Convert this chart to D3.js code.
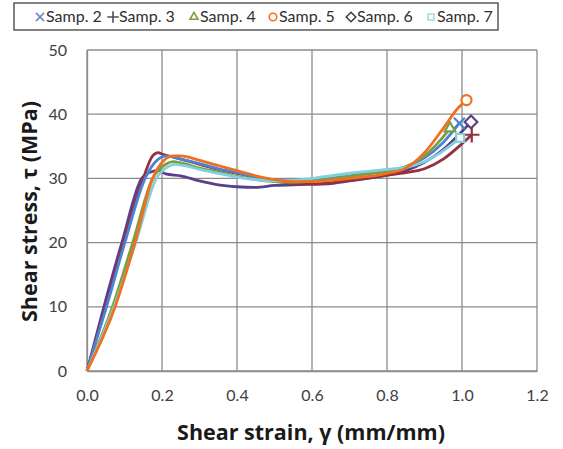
<!DOCTYPE html>
<html>
<head>
<meta charset="utf-8">
<script src="https://cdn.jsdelivr.net/npm/d3@7"></script>
<style>
  body { margin: 0; background: #fff; }
  text { font-family: Lato, "Open Sans", sans-serif; }
</style>
</head>
<body>
<div class="chart"></div>
<script>
// series data: [strain, stress]
const names = ['Samp. 2', 'Samp. 3', 'Samp. 4', 'Samp. 5', 'Samp. 6', 'Samp. 7'];
const colors = ['#4a84d8', '#953040', '#78a040', '#f07020', '#5a3f8a', '#80d0e0'];
const symbols = ['cross', 'plus', 'triangle', 'circle', 'diamond', 'square'];

const samp2 = [[0,0],[0.052,10],[0.101,20],[0.155,30],[0.19,33.0],[0.21,33.5],[0.25,33.0],[0.3,32.3],[0.35,31.5],[0.4,30.9],[0.45,30.2],[0.5,29.8],[0.55,29.6],[0.6,29.7],[0.65,30.0],[0.7,30.4],[0.75,30.8],[0.8,31.2],[0.85,31.8],[0.9,33.2],[0.95,35.6],[0.993,38.6]];
const samp3 = [[0,0],[0.05,10],[0.097,20],[0.15,30],[0.175,33.5],[0.19,34.0],[0.2,33.8],[0.25,33.0],[0.3,32.2],[0.35,31.4],[0.4,30.8],[0.45,30.2],[0.5,29.6],[0.55,29.2],[0.6,29.1],[0.65,29.3],[0.7,29.7],[0.75,30.1],[0.8,30.5],[0.85,30.9],[0.9,31.5],[0.95,33.0],[1.0,35.4],[1.026,36.8]];
const samp4 = [[0,0],[0.068,10],[0.122,20],[0.175,30],[0.21,32.2],[0.23,32.6],[0.25,32.4],[0.3,31.6],[0.35,31.0],[0.4,30.3],[0.45,29.8],[0.5,29.5],[0.55,29.4],[0.6,29.6],[0.65,29.9],[0.7,30.3],[0.75,30.7],[0.8,31.1],[0.85,31.8],[0.9,33.5],[0.94,35.8],[0.968,37.8]];
const samp5 = [[0,0],[0.075,10],[0.128,20],[0.175,30],[0.205,32.8],[0.23,33.5],[0.25,33.5],[0.3,32.8],[0.35,32.0],[0.4,31.2],[0.45,30.4],[0.5,29.8],[0.55,29.5],[0.6,29.5],[0.65,29.7],[0.7,30.0],[0.75,30.3],[0.8,30.8],[0.85,31.6],[0.9,34.0],[0.95,37.8],[0.99,41.0],[1.012,42.2]];
const samp6 = [[0,0],[0.045,10],[0.093,20],[0.146,30],[0.17,31.0],[0.19,31.2],[0.21,30.7],[0.25,30.4],[0.3,29.6],[0.35,29.0],[0.4,28.7],[0.45,28.6],[0.5,28.9],[0.55,29.0],[0.6,29.1],[0.65,29.2],[0.7,29.6],[0.75,30.0],[0.8,30.5],[0.85,31.2],[0.9,32.5],[0.95,34.5],[1.0,37.3],[1.024,38.8]];
const samp7 = [[0,0],[0.072,10],[0.13,20],[0.185,30],[0.215,31.8],[0.235,32.2],[0.26,32.0],[0.3,31.4],[0.35,30.8],[0.4,30.2],[0.45,29.8],[0.5,29.6],[0.55,29.7],[0.6,30.0],[0.65,30.4],[0.7,30.8],[0.75,31.1],[0.8,31.4],[0.85,31.7],[0.9,32.6],[0.95,34.3],[0.995,36.3]];

const xTicks = [0, 0.2, 0.4, 0.6, 0.8, 1.0, 1.2];
const yTicks = [0, 10, 20, 30, 40, 50];

const series = [samp2, samp3, samp4, samp5, samp6, samp7];
// drawing order: back to front
const order = [4, 1, 0, 2, 5, 3];

const width = 563, height = 449;
const margin = {left: 87, right: 26, top: 50, bottom: 78};

const svg = d3.select('.chart').append('svg')
  .attr('width', width)
  .attr('height', height);

const x = d3.scaleLinear().domain([0, 1.2]).range([margin.left, width - margin.right]);
const y = d3.scaleLinear().domain([0, 50]).range([height - margin.bottom, margin.top]);

// gridlines
svg.append('g').selectAll('line.v')
  .data(xTicks)
  .enter().append('line')
  .attr('x1', d => x(d)).attr('x2', d => x(d))
  .attr('y1', y(0)).attr('y2', y(50))
  .attr('stroke', '#8c8c8c').attr('stroke-width', 1.3);
svg.append('g').selectAll('line.h')
  .data(yTicks)
  .enter().append('line')
  .attr('x1', x(0)).attr('x2', x(1.2))
  .attr('y1', d => y(d)).attr('y2', d => y(d))
  .attr('stroke', '#8c8c8c').attr('stroke-width', 1.3);

// axes (labels only)
const xAxis = svg.append('g')
  .attr('transform', `translate(0,${y(0)})`)
  .call(d3.axisBottom(x).tickValues(xTicks).tickFormat(d3.format('.1f')).tickSize(0).tickPadding(19));
const yAxis = svg.append('g')
  .attr('transform', `translate(${x(0)},0)`)
  .call(d3.axisLeft(y).tickValues(yTicks).tickSize(0).tickPadding(20));
[xAxis, yAxis].forEach(g => {
  g.select('.domain').attr('stroke', '#8c8c8c').attr('stroke-width', 1.3);
  g.selectAll('text').attr('font-size', 16).attr('fill', '#404040')
    .style('font-family', 'Lato, sans-serif');
});

// lines
const line = d3.line().x(d => x(d[0])).y(d => y(d[1])).curve(d3.curveMonotoneX);
const gLines = svg.append('g');
order.forEach(i => {
  gLines.append('path')
    .datum(series[i])
    .attr('d', line)
    .attr('fill', 'none')
    .attr('stroke', colors[i])
    .attr('stroke-width', 2.8)
    .attr('stroke-linejoin', 'round');
});

// end markers
const diamond = {
  draw(ctx, size) {
    const r = Math.sqrt(size / 2);
    ctx.moveTo(0, -r); ctx.lineTo(r, 0); ctx.lineTo(0, r); ctx.lineTo(-r, 0); ctx.closePath();
  }
};
function symPath(s, size) {
  const t = {
    cross: d3.symbolTimes, plus: d3.symbolPlus, triangle: d3.symbolTriangle2,
    circle: d3.symbolCircle, diamond: diamond, square: d3.symbolSquare2
  }[s];
  return d3.symbol(t, size)();
}
order.forEach(i => {
  const last = series[i][series[i].length - 1];
  svg.append('path')
    .attr('d', symPath(symbols[i], 80))
    .attr('transform', `translate(${x(last[0])},${y(last[1])})`)
    .attr('fill', (symbols[i] === 'cross' || symbols[i] === 'plus') ? 'none' : '#fff')
    .attr('stroke', colors[i])
    .attr('stroke-width', 2.2);
});

// legend
const legend = svg.append('g');
legend.append('rect')
  .attr('x', 14).attr('y', 3).attr('width', 484).attr('height', 27)
  .attr('fill', '#fff').attr('stroke', '#404040').attr('stroke-width', 1.3);
const legX = [40, 113, 194, 273, 351, 431];
const legSym = ['#7585c0', '#505050', '#78a040', '#f07020', '#404040', '#a8d8e8'];
names.forEach((n, i) => {
  legend.append('path')
    .attr('d', symPath(symbols[i], 45))
    .attr('transform', `translate(${legX[i]},17)`)
    .attr('fill', 'none')
    .attr('stroke', legSym[i])
    .attr('stroke-width', 1.6);
  legend.append('text')
    .attr('x', legX[i] + 6).attr('y', 22)
    .attr('font-size', 16)
    .attr('fill', '#303030')
    .text(n);
});

// axis titles
svg.append('text')
  .attr('x', 311).attr('y', 440)
  .attr('text-anchor', 'middle')
  .attr('font-size', 21.5).attr('font-weight', 'bold').attr('fill', '#1a1a1a')
  .style('font-family', '"Open Sans", sans-serif')
  .text('Shear strain, γ (mm/mm)');
svg.append('text')
  .attr('transform', `translate(37,${(y(0) + y(50)) / 2 + 1}) rotate(-90)`)
  .attr('text-anchor', 'middle')
  .attr('font-size', 21.5).attr('font-weight', 'bold').attr('fill', '#1a1a1a')
  .style('font-family', '"Open Sans", sans-serif')
  .text('Shear stress, τ (MPa)');
</script>
</body>
</html>
